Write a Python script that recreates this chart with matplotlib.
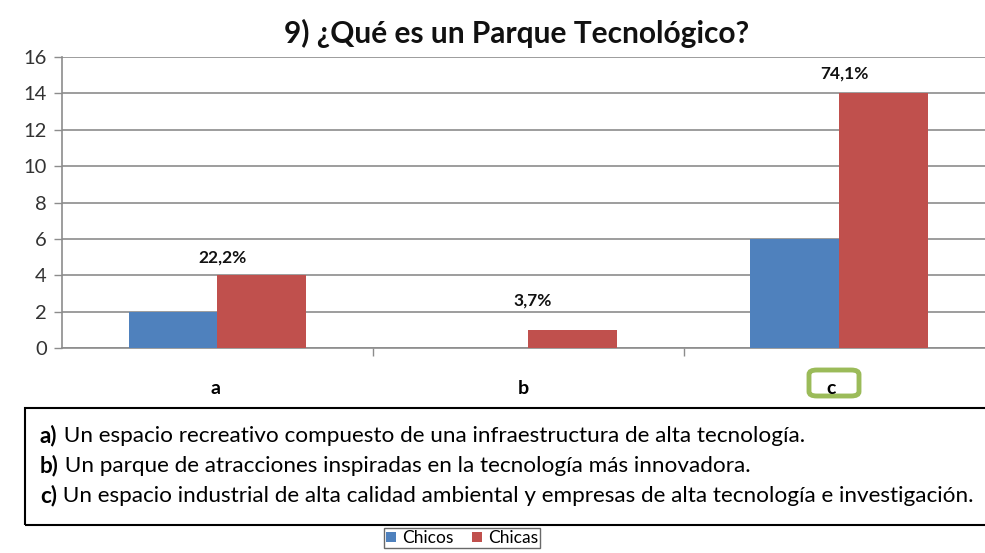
import matplotlib
matplotlib.use("Agg")
import matplotlib.pyplot as plt
from matplotlib.patches import Rectangle, FancyBboxPatch, Patch
import numpy as np

categories = ["a", "b", "c"]
chicos = [2, 0, 6]
chicas = [4, 1, 14]
pct_labels = ["22,2%", "3,7%", "74,1%"]
yticks = [0, 2, 4, 6, 8, 10, 12, 14, 16]
title = "9) ¿Qué es un Parque Tecnológico?"
desc = [("a)", " Un espacio recreativo compuesto de una infraestructura de alta tecnología."),
        ("b)", " Un parque de atracciones inspiradas en la tecnología más innovadora."),
        ("c)", " Un espacio industrial de alta calidad ambiental y empresas de alta tecnología e investigación.")]
series_names = ["Chicos", "Chicas"]

BLUE = "#4F81BD"
RED = "#C0504D"
GREEN = "#9BBB59"
GRID = "#8C8C8C"

plt.rcParams['font.family'] = ['Lato', 'DejaVu Sans']

W, H = 985, 553
fig = plt.figure(figsize=(W/100, H/100), dpi=100)
ax = fig.add_axes([62/W, 1-348/H, (W-62)/W + 0.01, (348-57)/H])

x = np.arange(len(categories))
bw = 0.286
ax.bar(x - bw/2, chicos, width=bw, color=BLUE, zorder=3)
ax.bar(x + bw/2, chicas, width=bw, color=RED, zorder=3)

ax.set_xlim(-0.5, 2.5)
ax.set_ylim(0, 16)
ax.set_yticks(yticks)
ax.set_yticklabels([str(v) for v in yticks], fontsize=14.5, color="#333333")
ax.yaxis.grid(True, color=GRID, linewidth=1.2, zorder=0)
ax.set_axisbelow(True)
ax.tick_params(axis='y', length=6, color=GRID, width=1, pad=5)
ax.set_xticks([0.5, 1.5])
ax.set_xticklabels(["", ""])
ax.tick_params(axis='x', length=6, color=GRID, width=1)
for s in ["top", "right"]:
    ax.spines[s].set_visible(False)
for s in ["left", "bottom"]:
    ax.spines[s].set_color(GRID)
    ax.spines[s].set_linewidth(1.2)

# data labels
offsets = [1.0, 1.6, 1.1]
for i, lab in enumerate(pct_labels):
    ax.text(x[i] + 0.015, chicas[i] + offsets[i], lab, ha="center", va="center",
            fontsize=12.5, fontweight="bold", color="#111111")

# category labels
for i, c in enumerate(categories):
    xf = (62 + (i + 0.5) * (W - 62) / 3) / W
    fig.text(xf, 1 - 389/H, c, ha="center", va="center", fontsize=14, fontweight="bold")

# green box around c
gb = FancyBboxPatch((809/W, 1 - 396/H), 50/W, 26/H,
                    boxstyle="round,pad=0,rounding_size=0.008",
                    transform=fig.transFigure, fill=False, edgecolor=GREEN, linewidth=3.5)
fig.add_artist(gb)

# title
fig.text(517/W, 1 - 33/H, title, ha="center", va="center", fontsize=21.5, fontweight="bold",
         color="#111111")

# description box
rect = Rectangle((25/W, 1 - 525/H), (W - 25)/W + 0.01, 117/H, transform=fig.transFigure,
                 fill=False, edgecolor="black", linewidth=1.5)
fig.add_artist(rect)
ys = [436, 466, 496]
for (lab, txt), yy in zip(desc, ys):
    t1 = fig.text(40/W, 1 - yy/H, lab, ha="left", va="center", fontsize=16.2, fontweight="bold")
    fig.canvas.draw()
    bb = t1.get_window_extent()
    fig.text(bb.x1/W, 1 - yy/H, txt, ha="left", va="center", fontsize=16.2)

# legend
handles = [Patch(facecolor=BLUE), Patch(facecolor=RED)]
leg = fig.legend(handles, series_names, loc="upper center", bbox_to_anchor=(462/W, 1 - 528/H),
                 ncol=2, fontsize=12.5, frameon=True, fancybox=False, edgecolor="#444444",
                 handlelength=0.55, handleheight=0.55, handletextpad=0.35, columnspacing=1.1,
                 borderpad=0.12, borderaxespad=0.0)
leg.get_frame().set_linewidth(1.0)

fig.savefig("out.png", dpi=100)
